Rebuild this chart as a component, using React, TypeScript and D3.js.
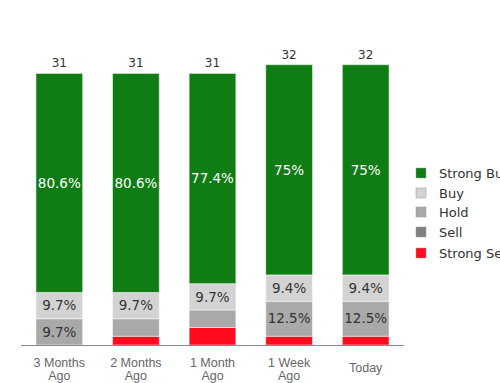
import React from "react";
import * as d3 from "d3";

const categories = ["3 Months Ago", "2 Months Ago", "1 Month Ago", "1 Week Ago", "Today"];
const seriesNames = ["Strong Buy", "Buy", "Hold", "Sell", "Strong Sell"];
const strongBuy = [25, 25, 24, 24, 24];
const buy = [3, 3, 3, 3, 3];
const hold = [3, 2, 2, 4, 4];
const sell = [0, 0, 0, 0, 0];
const strongSell = [0, 1, 2, 1, 1];
const colors = ["#107c14", "#d3d3d3", "#a9a9a9", "#808080", "#ff0a1e"];
const labelColors = ["#ffffff", "#333333", "#333333", "#333333", "#333333"];

const W = 500, H = 383;
const baseY = 345;
const plotLeft = 21, plotRight = 404;

export default function App() {
  const series = [strongBuy, buy, hold, sell, strongSell];
  const totals = categories.map((_, i) => series.reduce((s, a) => s + a[i], 0));
  const x = d3.scaleBand().domain(categories).range([plotLeft, plotRight]).paddingInner(0.39).paddingOuter(0.195);
  const y = d3.scaleLinear().domain([0, 35]).range([baseY, baseY - 35 * 8.76]);
  const order = [4, 3, 2, 1, 0];
  const segs: any[] = [];
  categories.forEach((c, i) => {
    let acc = 0;
    order.forEach((si) => {
      const v = series[si][i];
      const y0 = acc, y1 = acc + v;
      acc = y1;
      if (v > 0) segs.push({ c, si, v, y0, y1, pct: (v / totals[i]) * 100 });
    });
  });
  const font = "DejaVu Sans, sans-serif";
  return (
    <svg width={W} height={H} style={{ position: "absolute", left: 0, top: 0 }} fontFamily={font}>
      {segs.map((s, k) => (
        <rect key={k} x={x(s.c)} y={y(s.y1)} width={x.bandwidth()} height={y(s.y0) - y(s.y1)}
          fill={colors[s.si]} stroke="#ffffff" strokeOpacity={0.5} strokeWidth={1} />
      ))}
      {segs.filter((s) => s.pct >= 9).map((s, k) => (
        <text key={"l" + k} x={x(s.c)! + x.bandwidth() / 2} y={(y(s.y0) + y(s.y1)) / 2} dy="0.35em"
          textAnchor="middle" fontSize={13.5} fill={labelColors[s.si]}>
          {(Math.round(s.pct * 10) / 10) + "%"}
        </text>
      ))}
      {categories.map((c, i) => (
        <text key={"t" + i} x={x(c)! + x.bandwidth() / 2} y={y(totals[i]) - 6} textAnchor="middle"
          fontSize={12} fill="#333">{totals[i]}</text>
      ))}
      <line x1={plotLeft} x2={plotRight} y1={baseY + 0.5} y2={baseY + 0.5} stroke="#888" strokeWidth={1} />
      {categories.map((c, i) => {
        const parts = c === "Today" ? ["Today"] : [c.replace(/ Ago$/, ""), "Ago"];
        const cx = x(c)! + x.bandwidth() / 2;
        return (
          <text key={"x" + i} x={cx} y={c === "Today" ? 368 : 363} textAnchor="middle" fontSize={12.5} fill="#666" fontFamily="Liberation Sans, Arial, sans-serif">
            {parts.map((p, j) => (
              <tspan key={j} x={cx} dy={j === 0 ? "0.35em" : 13}>{p}</tspan>
            ))}
          </text>
        );
      })}
      {seriesNames.map((n, i) => {
        const ly = [173, 193, 212, 232, 253][i];
        return (
          <g key={"lg" + i}>
            <rect x={416} y={ly - 5} width={10} height={10} fill={colors[i]} stroke="#999" strokeWidth={0.5} />
            <text x={439} y={ly} dy="0.35em" fontSize={13} fill="#333">{n}</text>
          </g>
        );
      })}
    </svg>
  );
}
